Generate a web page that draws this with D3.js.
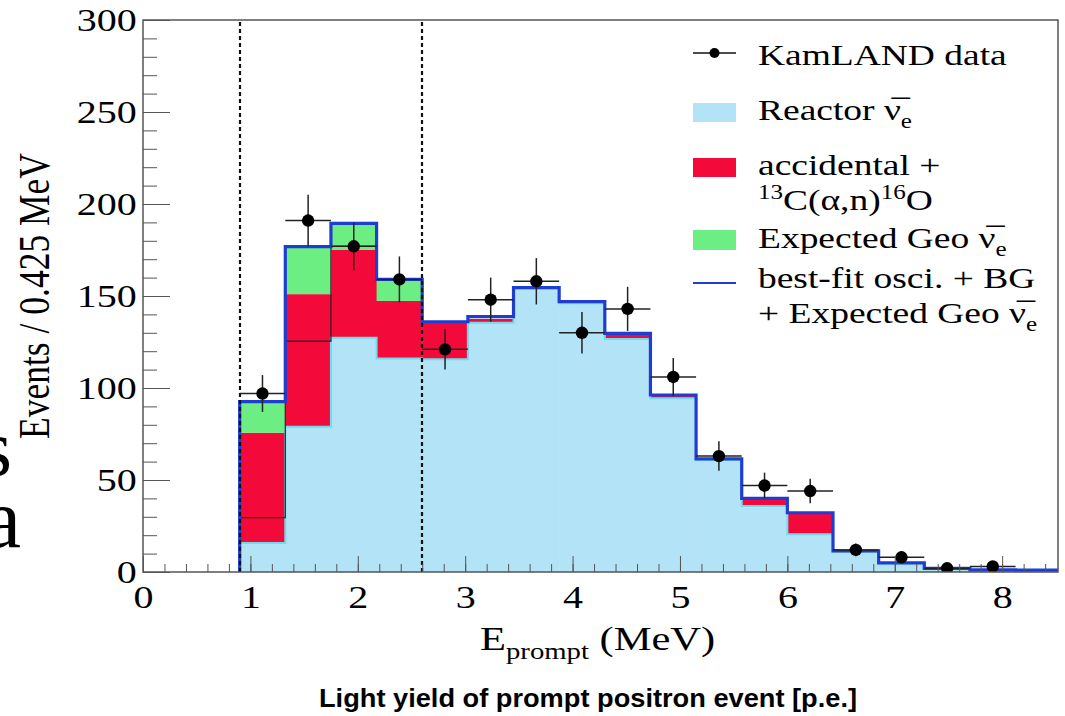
<!DOCTYPE html>
<html lang="en">
<head>
<meta charset="UTF-8">
<title>KamLAND prompt energy spectrum</title>
<style>
  body { margin: 0; background: #fff; }
  svg { display: block; }
  .serif { font-family: "Liberation Serif", "Times New Roman", serif; fill: #000; }
</style>
</head>
<body>
<svg width="1065" height="716"></svg>
<script src="https://d3js.org/d3.v7.min.js"></script>
<script>
// bin edges, 0.425 MeV wide, from the 0.9 MeV threshold
var binEdges = [0.9, 1.325, 1.75, 2.175, 2.6, 3.025, 3.45, 3.875, 4.3, 4.725,
                5.15, 5.575, 6.0, 6.425, 6.85, 7.275, 7.7, 8.125, 8.55];
var reactor    = [15.7, 79, 127.3, 116.1, 115.6, 135.5, 154.2, 146, 126.6, 94.4,
                  60.9, 35.9, 20.5, 11, 4.8, 1.5, 1, 0.8];
var accidental = [60, 72, 47.7, 31.2, 20.4, 2, 0.3, 0.5, 2.2, 1.4,
                  0.6, 4.1, 11.7, 0.3, 0.2, 0.3, 0.2, 0.2];
var geo        = [16.9, 25.8, 14.5, 11.7, 0, 0, 0, 0, 0, 0,
                  0, 0, 0, 0, 0, 0, 0, 0];
var bestFit    = [92.6, 176.8, 189.5, 159, 136, 138.8, 154.5, 146.9, 129.7, 96.2,
                  61.5, 40, 32.2, 11.5, 5, 2, 1.2, 1];
// thin black outline inside the background band (first bins only)
var alphaNEdge = [29.5, 125.5, 177];
var dataCounts = [97, 191, 177, 159, 121, 148, 158, 130, 143, 106,
                  63, 47, 44, 12, 8, 2, 3, null];
var dataErr    = [10, 14, 13, 12.5, 11, 12, 12.6, 11.3, 12, 10.3,
                  8, 7, 6.7, 3.5, 3, 1.5, 1.8, null];
var cutLines = [0.9, 2.6];
var xTicks = [0, 1, 2, 3, 4, 5, 6, 7, 8];
var yTicks = [0, 50, 100, 150, 200, 250, 300];

var svg = d3.select("svg");
var SX = 1.25; // the picture is stretched sideways
var frame = {left: 143, right: 1058, top: 20, bottom: 572};

var x = d3.scaleLinear().domain([0, 8.52]).range([frame.left, frame.right]);
var y = d3.scaleLinear().domain([0, 300]).range([frame.bottom, frame.top]);

svg.append("clipPath").attr("id", "plotclip")
    .append("rect").attr("x", frame.left).attr("y", frame.top)
    .attr("width", frame.right - frame.left).attr("height", frame.bottom - frame.top);

var plot = svg.append("g").attr("clip-path", "url(#plotclip)");

var rows = reactor.map(function (r, i) {
    return {x0: binEdges[i], x1: binEdges[i + 1], reactor: r, accidental: accidental[i], geo: geo[i]};
});
var keys = ["reactor", "accidental", "geo"];
var colors = {reactor: "#b3e3f6", accidental: "#f40a3a", geo: "#6cee82"};
var stacked = d3.stack().keys(keys)(rows);

stacked.forEach(function (layer) {
    plot.append("g").selectAll("rect")
        .data(layer)
        .join("rect")
        .attr("x", d => x(d.data.x0))
        .attr("width", d => x(d.data.x1) - x(d.data.x0) + 0.5)
        .attr("y", d => y(d[1]))
        .attr("height", d => Math.max(0, y(d[0]) - y(d[1])))
        .attr("fill", colors[layer.key]);
});

function stepPoints(vals, edges) {
    var pts = [[edges[0], 0]];
    vals.forEach(function (v, i) { pts.push([edges[i], v]); });
    pts.push([edges[vals.length], vals[vals.length - 1]]);
    pts.push([edges[vals.length], 0]);
    return pts;
}
var step = d3.line().x(d => x(d[0])).y(d => y(d[1])).curve(d3.curveStepAfter);

// reactor outline
plot.append("path")
    .attr("d", step(stepPoints(reactor, binEdges).slice(1, -1)))
    .attr("fill", "none").attr("stroke", "#72dcef").attr("stroke-width", 2);

// thin black line
var blk = alphaNEdge.map((v, i) => [binEdges[i], v]);
blk.push([binEdges[alphaNEdge.length], alphaNEdge[alphaNEdge.length - 1]]);
plot.append("path")
    .attr("d", step(blk))
    .attr("fill", "none").attr("stroke", "#222").attr("stroke-width", 1.2);

// best fit total
plot.append("path")
    .attr("d", step(stepPoints(bestFit, binEdges)))
    .attr("fill", "none").attr("stroke", "#1e3ed2").attr("stroke-width", 3.2);

// cut lines
plot.selectAll(".cut")
    .data(cutLines)
    .join("line")
    .attr("x1", d => Math.round(x(d))).attr("x2", d => Math.round(x(d)))
    .attr("y1", y(0)).attr("y2", y(300))
    .attr("stroke", "#111").attr("stroke-width", 2.2)
    .attr("stroke-dasharray", "4,3");

// data points
var pts = dataCounts.map(function (c, i) {
    return {x0: binEdges[i], x1: binEdges[i + 1], v: c, e: dataErr[i]};
}).filter(d => d.v !== null);

var dg = plot.append("g");
dg.selectAll(".h").data(pts).join("line")
    .attr("x1", d => x(d.x0)).attr("x2", d => x(d.x1))
    .attr("y1", d => y(d.v)).attr("y2", d => y(d.v))
    .attr("stroke", "#222").attr("stroke-width", 1.5);
dg.selectAll(".v").data(pts).join("line")
    .attr("x1", d => x((d.x0 + d.x1) / 2)).attr("x2", d => x((d.x0 + d.x1) / 2))
    .attr("y1", d => y(d.v - d.e)).attr("y2", d => y(d.v + d.e))
    .attr("stroke", "#222").attr("stroke-width", 1.5);
dg.selectAll("circle").data(pts).join("circle")
    .attr("cx", d => x((d.x0 + d.x1) / 2)).attr("cy", d => y(d.v))
    .attr("r", 6.2).attr("fill", "#000");

// axes
var axisColor = "#555";
var yMinor = d3.range(0, 31).map(i => i * 10);
var xMinor = d3.range(0, 43).map(i => i * 0.2);

svg.append("g").attr("transform", `translate(${frame.left},0)`).style("color", axisColor)
    .call(d3.axisRight(y).tickValues(yMinor).tickSize(14).tickSizeOuter(0).tickFormat(""))
    .call(g => g.select(".domain").remove());
svg.append("g").attr("transform", `translate(${frame.left},0)`).style("color", axisColor)
    .call(d3.axisRight(y).tickValues(yTicks).tickSize(27).tickSizeOuter(0).tickFormat(""))
    .call(g => g.select(".domain").remove());
svg.append("g").attr("transform", `translate(0,${frame.bottom})`).style("color", axisColor)
    .call(d3.axisTop(x).tickValues(xMinor).tickSize(8).tickSizeOuter(0).tickFormat(""))
    .call(g => g.select(".domain").remove());
svg.append("g").attr("transform", `translate(0,${frame.bottom})`).style("color", axisColor)
    .call(d3.axisTop(x).tickValues(xTicks).tickSize(16).tickSizeOuter(0).tickFormat(""))
    .call(g => g.select(".domain").remove());

// frame
svg.append("rect")
    .attr("x", frame.left).attr("y", frame.top)
    .attr("width", frame.right - frame.left).attr("height", frame.bottom - frame.top)
    .attr("fill", "none").attr("stroke", axisColor).attr("stroke-width", 1.5);

// tick labels
var yl = svg.append("g").attr("transform", `translate(${frame.left},0)`)
    .call(d3.axisLeft(y).tickValues(yTicks).tickSize(0).tickPadding(5));
yl.select(".domain").remove();
yl.attr("font-size", 32).attr("font-family", "Liberation Serif, Times New Roman, serif");
yl.selectAll("text").attr("fill", "#000").attr("transform", `scale(${SX},1)`);

var xl = svg.append("g").attr("transform", `translate(0,${frame.bottom})`)
    .call(d3.axisBottom(x).tickValues(xTicks).tickSize(0).tickPadding(13));
xl.select(".domain").remove();
xl.attr("font-size", 32).attr("font-family", "Liberation Serif, Times New Roman, serif");
xl.selectAll("text").attr("fill", "#000").attr("transform", `scale(${SX},1)`);

// axis titles
var xt = svg.append("text").attr("class", "serif")
    .attr("transform", `translate(480,650) scale(${SX},1)`)
    .attr("font-size", 34);
xt.append("tspan").text("E");
xt.append("tspan").attr("font-size", 23).attr("dy", 9).text("prompt");
xt.append("tspan").attr("dy", -9).text(" (MeV)");

svg.append("text").attr("class", "serif")
    .attr("transform", `translate(49,296) scale(${SX},1) rotate(-90)`)
    .attr("text-anchor", "middle")
    .attr("font-size", 35.5)
    .text("Events / 0.425 MeV");

// caption under the plot
svg.append("text")
    .attr("x", 319).attr("y", 707)
    .attr("font-family", "Liberation Sans, Arial, sans-serif")
    .attr("font-weight", "bold")
    .attr("font-size", 25)
    .attr("textLength", 538)
    .attr("lengthAdjust", "spacingAndGlyphs")
    .text("Light yield of prompt positron event [p.e.]");

// letters cut at the left edge of the picture
svg.append("text").attr("class", "serif").attr("x", 12).attr("y", 475)
    .attr("text-anchor", "end").attr("font-size", 80).text("s");
svg.append("text").attr("class", "serif").attr("x", 21).attr("y", 547)
    .attr("text-anchor", "end").attr("font-size", 84).text("a");

// legend
var nubar = "\u03BD\u0305";
var lg = svg.append("g");
var sx0 = 693, sx1 = 736, tx = 758;

lg.append("line").attr("x1", sx0).attr("x2", sx1).attr("y1", 53).attr("y2", 53)
    .attr("stroke", "#111").attr("stroke-width", 1.5);
lg.append("circle").attr("cx", (sx0 + sx1) / 2).attr("cy", 53).attr("r", 5).attr("fill", "#000");
lg.append("rect").attr("x", sx0).attr("y", 103).attr("width", sx1 - sx0).attr("height", 19).attr("fill", colors.reactor);
lg.append("rect").attr("x", sx0).attr("y", 158).attr("width", sx1 - sx0).attr("height", 19).attr("fill", colors.accidental);
lg.append("rect").attr("x", sx0).attr("y", 230).attr("width", sx1 - sx0).attr("height", 20).attr("fill", colors.geo);
lg.append("line").attr("x1", sx0).attr("x2", sx1).attr("y1", 283).attr("y2", 283)
    .attr("stroke", "#1e3ed2").attr("stroke-width", 2);

function legendText(yy) {
    return lg.append("text").attr("class", "serif")
        .attr("transform", `translate(${tx},${yy}) scale(${SX},1)`)
        .attr("font-size", 30);
}
legendText(65).text("KamLAND data");
var t2 = legendText(120);
t2.append("tspan").text("Reactor  " + nubar);
t2.append("tspan").attr("font-size", 20).attr("dy", 8).text("e");
legendText(175).text("accidental +");
var t4 = legendText(210);
t4.append("tspan").attr("font-size", 20).attr("dy", -11).text("13");
t4.append("tspan").attr("dy", 11).text("C(\u03B1,n)");
t4.append("tspan").attr("font-size", 20).attr("dy", -11).text("16");
t4.append("tspan").attr("dy", 11).text("O");
var t5 = legendText(248);
t5.append("tspan").text("Expected Geo " + nubar);
t5.append("tspan").attr("font-size", 20).attr("dy", 8).text("e");
legendText(288).text("best-fit osci. + BG");
var t7 = legendText(323);
t7.append("tspan").text("+ Expected Geo " + nubar);
t7.append("tspan").attr("font-size", 20).attr("dy", 8).text("e");
</script>
</body>
</html>
